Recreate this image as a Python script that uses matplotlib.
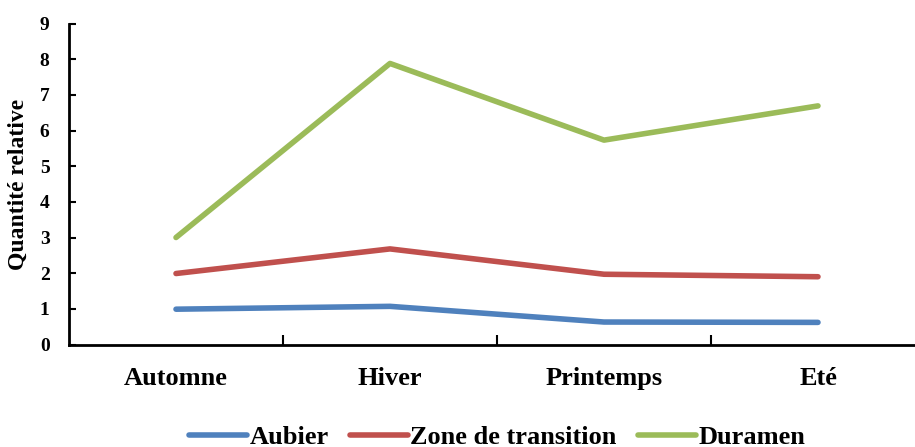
import matplotlib.pyplot as plt

seasons = ['Automne', 'Hiver', 'Printemps', 'Eté']
aubier = [0.99, 1.07, 0.63, 0.62]
zone_transition = [1.99, 2.68, 1.97, 1.90]
duramen = [3.0, 7.88, 5.73, 6.69]

plt.rcParams['font.family'] = ['Liberation Serif', 'DejaVu Serif']
plt.rcParams['font.weight'] = 'bold'

fig = plt.figure(figsize=(9.15, 4.47), dpi=100)
ax = fig.add_axes([69 / 915, 102.5 / 447, 856 / 915, 321 / 447])

x = range(len(seasons))
ax.plot(x, aubier, color='#4F81BD', lw=4, solid_capstyle='round', label='Aubier')
ax.plot(x, zone_transition, color='#C0504D', lw=4, solid_capstyle='round', label='Zone de transition')
ax.plot(x, duramen, color='#9BBB59', lw=4, solid_capstyle='round', label='Duramen')

ax.set_xlim(-0.5, 3.5)
ax.set_ylim(0, 9)
ax.set_yticks(range(10))
ax.set_xticks(list(x))
ax.set_xticklabels(seasons, fontsize=19, fontweight='bold')
ax.set_xticks([0.5, 1.5, 2.5], minor=True)
ax.tick_params(axis='x', which='major', length=0, pad=16)
ax.tick_params(axis='x', which='minor', direction='in', length=7, width=1.5)
ax.tick_params(axis='y', direction='in', length=5, width=1.5, labelsize=14, pad=14)
for lab in ax.get_yticklabels():
    lab.set_fontweight('bold')

ax.spines['top'].set_visible(False)
ax.spines['right'].set_visible(False)
ax.spines['left'].set_linewidth(2)
ax.spines['bottom'].set_linewidth(2)

ax.set_ylabel('Quantité relative', fontsize=17, fontweight='bold', labelpad=8)

fig.legend(loc='center', bbox_to_anchor=(497 / 915, 1 - 437 / 447), ncol=3, frameon=False,
           fontsize=19, handlelength=2.2, handletextpad=0.1, columnspacing=0.8,
           prop={'weight': 'bold', 'size': 19})

fig.savefig('out.png', dpi=100)
